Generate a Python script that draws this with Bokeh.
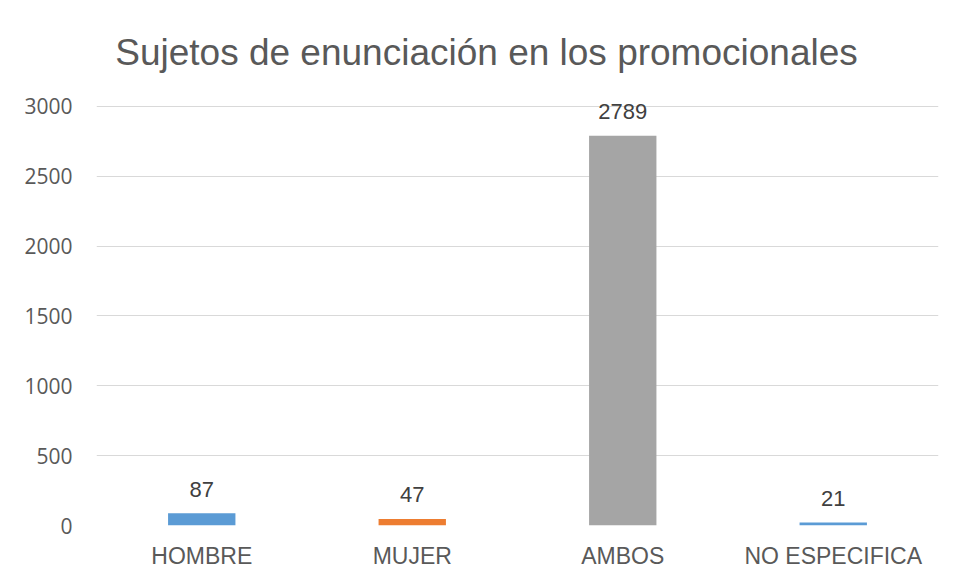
from bokeh.plotting import figure
from bokeh.models import ColumnDataSource, Range1d, FixedTicker, Label
from bokeh.core.properties import value
from bokeh.embed import file_html
from bokeh.resources import INLINE

categories = ["HOMBRE", "MUJER", "AMBOS", "NO ESPECIFICA"]
counts = [87, 47, 2789, 21]
colors = ["#5B9BD5", "#ED7D31", "#A5A5A5", "#5B9BD5"]
y_ticks = [0, 500, 1000, 1500, 2000, 2500, 3000]
title_text = "Sujetos de enunciación en los promocionales"

src = ColumnDataSource(dict(cat=categories, val=counts, col=colors,
                            lab=[str(v) for v in counts]))

p = figure(width=946, height=571, x_range=categories, y_range=Range1d(0, 3700),
           output_backend="svg", toolbar_location=None, tools="")
p.min_border_left = 96
p.min_border_right = 8
p.min_border_top = 8
p.min_border_bottom = 45
p.outline_line_color = None
p.background_fill_color = "white"
p.border_fill_color = "white"

p.vbar(x="cat", top="val", width=0.32, fill_color="col", line_color=None, source=src)
p.text(x="cat", y="val", text="lab", source=src, y_offset=-24,
       text_align="center", text_baseline="middle",
       text_font=value("Liberation Sans"), text_font_size="22px", text_color="#404040")

p.add_layout(Label(x=2.0, y=3386, x_offset=-31, text=title_text,
                   text_align="center", text_baseline="middle",
                   text_font="Liberation Sans", text_font_size="37px",
                   text_color="#595959"))

p.xgrid.grid_line_color = None
p.ygrid.grid_line_color = "#d9d9d9"
p.ygrid.grid_line_width = 1
p.yaxis.ticker = FixedTicker(ticks=y_ticks)
p.yaxis.minor_tick_line_color = None

for ax in (p.xaxis[0], p.yaxis[0]):
    ax.axis_line_color = None
    ax.major_tick_line_color = None
    ax.major_tick_out = 0
    ax.major_tick_in = 0
    ax.major_label_text_color = "#595959"

p.yaxis.major_label_text_font = "Open Sans"
p.yaxis.major_label_text_font_size = "21px"
p.yaxis.major_label_standoff = 24
p.xaxis.major_label_text_font = "Liberation Sans"
p.xaxis.major_label_text_font_size = "23px"
p.xaxis.major_label_standoff = 17

open("out.html", "w").write(file_html(p, INLINE))
